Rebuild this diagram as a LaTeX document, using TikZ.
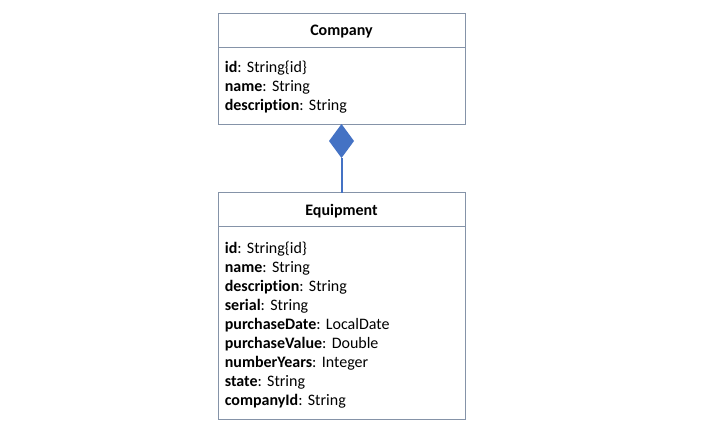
\documentclass[tikz,border=0pt]{standalone}
\usepackage{fontspec}
\setmainfont{Carlito}[Ligatures=NoCommon]
\usetikzlibrary{positioning,shapes.geometric}
\definecolor{boxline}{HTML}{8593A8}
\definecolor{linkblue}{HTML}{4472C4}

\tikzset{
  classhead/.style={draw=boxline,line width=0.75pt,minimum width=185.25pt,
    minimum height=25.5pt,inner sep=0pt,outer sep=0pt,text height=8.3pt,text depth=0pt,
    font=\fontsize{12pt}{14.25pt}\selectfont\bfseries},
  classbody/.style={draw=boxline,line width=0.75pt,minimum width=185.25pt,
    text width=175pt,align=left,inner sep=0pt,outer sep=0pt,
    execute at end node={\vspace*{-3pt}},
    font=\fontsize{12pt}{14.25pt}\selectfont\frenchspacing},
  compose/.style={diamond,fill=linkblue,inner sep=0pt,outer sep=0pt,
    minimum width=18.75pt,minimum height=25.5pt}
}
\newcommand{\attr}[2]{\textbf{#1}: #2}

\begin{document}
\begin{tikzpicture}[x=0.75pt,y=-0.75pt]
\useasboundingbox (0,0) rectangle (709,425);

% company class
\node[classhead] (companyhead) at (341.5,30) {Company};
\node[classbody,minimum height=57.75pt,below=0pt of companyhead] (companybody) {%
\attr{id}{String\{id\}}\\
\attr{name}{String}\\
\attr{description}{String}};

% composition
\node[compose,below=0pt of companybody] (link) {};

% equipment class
\node[classhead] (equiphead) at (341.5,209.5) {Equipment};
\node[classbody,minimum height=144.75pt,below=0pt of equiphead] (equipbody) {%
\attr{id}{String\{id\}}\\
\attr{name}{String}\\
\attr{description}{String}\\
\attr{serial}{String}\\
\attr{purchaseDate}{LocalDate}\\
\attr{purchaseValue}{Double}\\
\attr{numberYears}{Integer}\\
\attr{state}{String}\\
\attr{companyId}{String}};

\draw[linkblue,line width=1.5pt] (link.south) -- (equiphead.north);
\end{tikzpicture}
\end{document}
